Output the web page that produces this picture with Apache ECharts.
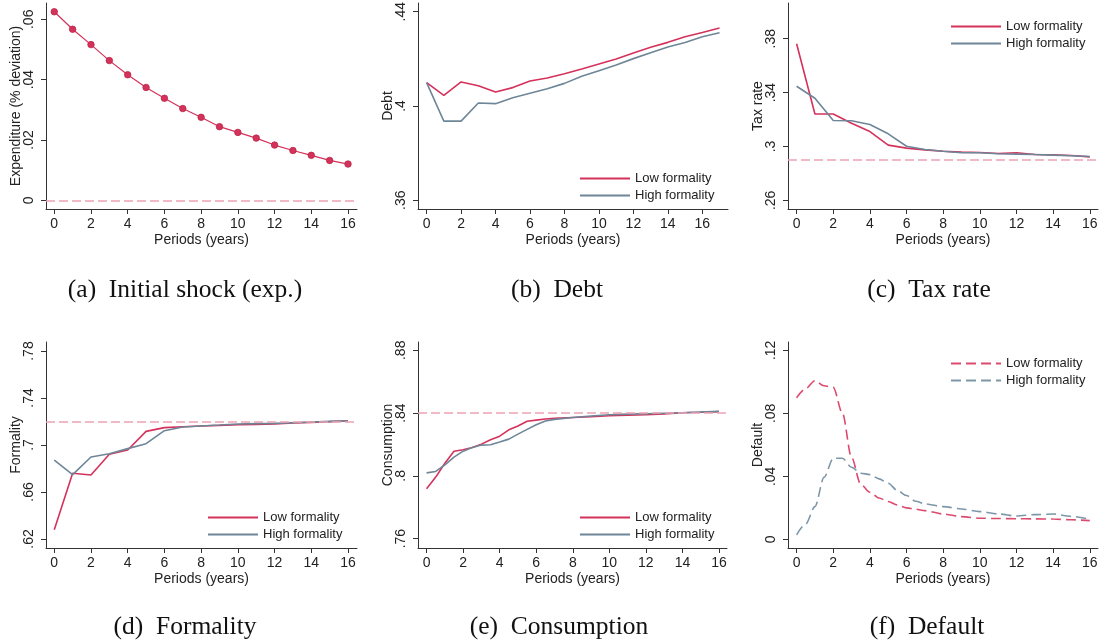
<!DOCTYPE html>
<html>
<head>
<meta charset="utf-8">
<script src="https://cdn.jsdelivr.net/npm/echarts@6/dist/echarts.min.js"></script>
<style>
body{margin:0;background:#fff;}
.panel{position:absolute;width:367px;height:322px;}
</style>
</head>
<body>
<div id="pa" class="panel" style="left:0;top:0"></div>
<div id="pb" class="panel" style="left:367px;top:0"></div>
<div id="pc" class="panel" style="left:734px;top:0;width:368px"></div>
<div id="pd" class="panel" style="left:0;top:322px"></div>
<div id="pe" class="panel" style="left:367px;top:322px"></div>
<div id="pf" class="panel" style="left:734px;top:322px;width:368px"></div>
<script>
// data
var periods = [0,1,2,3,4,5,6,7,8,9,10,11,12,13,14,15,16];
var xTicks = [0,2,4,6,8,10,12,14,16];

var shockExp = [0.0625,0.0567,0.0516,0.0463,0.0416,0.0374,0.0338,0.0304,0.0275,0.0244,0.0225,0.0206,0.0183,0.0165,0.0149,0.0132,0.0120];
var shockSteady = 0.0005;
var shockTicks = [0,0.02,0.04,0.06];

var debtPeriods = [0,1,2,3,4,5,6,7,8,9,10,11,12,13,14,15,16,17];
var debtLow = [0.4099,0.4045,0.4102,0.4086,0.4059,0.4078,0.4106,0.4119,0.4137,0.4157,0.4178,0.4199,0.4225,0.4249,0.4270,0.4294,0.4312,0.4331];
var debtHigh = [0.4099,0.3936,0.3936,0.4013,0.4010,0.4035,0.4054,0.4073,0.4096,0.4126,0.4150,0.4174,0.4201,0.4226,0.4250,0.4269,0.4294,0.4311];
var debtTicks = [0.36,0.4,0.44];

var taxLow = [0.3763,0.3241,0.3241,0.3173,0.3111,0.3010,0.2988,0.2975,0.2965,0.2958,0.2955,0.2948,0.2953,0.2940,0.2938,0.2933,0.2923];
var taxHigh = [0.3447,0.3358,0.3193,0.3191,0.3163,0.3094,0.3002,0.2978,0.2965,0.2953,0.2953,0.2946,0.2943,0.2940,0.2936,0.2931,0.2926];
var taxSteady = 0.2916;
var taxTicks = [0.26,0.3,0.34,0.38];

var formLow = [0.6279,0.6759,0.6745,0.6921,0.6957,0.7116,0.7148,0.7156,0.7162,0.7167,0.7173,0.7176,0.7179,0.7187,0.7193,0.7199,0.7207];
var formHigh = [0.6872,0.6748,0.6898,0.6926,0.6969,0.7011,0.7122,0.7153,0.7162,0.7170,0.7179,0.7182,0.7184,0.7190,0.7196,0.7201,0.7204];
var formSteady = 0.7216;
var formTicks = [0.62,0.66,0.7,0.74,0.78];

var halfPeriods = [0,0.5,1,1.5,2,2.5,3,3.5,4,4.5,5,5.5,6,6.5,7,8,9,10,11,12,13,14,15,16];
var consLow = [0.7917,0.7992,0.8080,0.8157,0.8166,0.8181,0.8202,0.8230,0.8253,0.8293,0.8318,0.8348,0.8355,0.8362,0.8366,0.8372,0.8377,0.8383,0.8386,0.8389,0.8395,0.8402,0.8405,0.8409];
var consHigh = [0.8019,0.8028,0.8070,0.8119,0.8157,0.8181,0.8196,0.8198,0.8215,0.8234,0.8266,0.8296,0.8326,0.8349,0.8360,0.8372,0.8381,0.8389,0.8393,0.8396,0.8399,0.8402,0.8407,0.8411];
var consSteady = 0.8417;
var consTicks = [0.76,0.8,0.84,0.88];

var defLow = [0.0899,0.0958,0.1007,0.0975,0.0965,0.0800,0.0520,0.0350,0.0299,0.0262,0.0240,0.0218,0.0200,0.0191,0.0182,0.0161,0.0144,0.0134,0.0132,0.0131,0.0130,0.0129,0.0124,0.0119];
var defHigh = [0.0028,0.0098,0.0208,0.0394,0.0515,0.0515,0.0458,0.0420,0.0411,0.0384,0.0356,0.0310,0.0278,0.0242,0.0225,0.0208,0.0193,0.0176,0.0161,0.0148,0.0157,0.0161,0.0146,0.0127];
var defTicks = [0,0.04,0.08,0.12];

var RED = '#d4325b';
var BLUE = '#6e8698';
var PINK = '#eca2b3';

function pairs(xs, ys){
  return ys.map(function(v,i){ return [xs[i], v]; });
}

function tickLabel(v){
  var s = String(Math.round(v*1000)/1000);
  return s.replace(/^0\./,'.');
}

function steadyLine(v){
  return {
    silent:true, symbol:'none', label:{show:false},
    lineStyle:{color:PINK, type:[9,4], width:1.5, opacity:1},
    emphasis:{disabled:true},
    data:[{yAxis:v}]
  };
}

function drawPanel(id, cfg){
  var chart = echarts.init(document.getElementById(id));
  var opt = {
    animation:false,
    textStyle:{fontFamily:'Liberation Sans', color:'#222'},
    grid:{left:cfg.grid[0], top:cfg.grid[1], width:cfg.grid[2], height:206, outerBoundsMode:'none', containLabel:false},
    xAxis:{
      type:'value', min:cfg.x[0], max:cfg.x[1],
      name:'Periods (years)', nameLocation:'middle', nameGap:24, nameMoveOverlap:false,
      nameTextStyle:{fontSize:14, color:'#222'},
      axisLine:{onZero:false, lineStyle:{color:'#333', width:1}},
      axisTick:{customValues:xTicks, length:5, lineStyle:{color:'#333'}},
      axisLabel:{customValues:xTicks, fontSize:14, color:'#222', margin:8},
      splitLine:{show:false}
    },
    yAxis:{
      type:'value', min:cfg.y[0], max:cfg.y[1],
      name:cfg.yName, nameLocation:'middle', nameGap:23, nameMoveOverlap:false,
      nameTextStyle:{fontSize:14, color:'#222'},
      axisLine:{show:true, onZero:false, lineStyle:{color:'#333', width:1}},
      axisTick:{show:true, customValues:cfg.yTicks, length:5, lineStyle:{color:'#333'}},
      axisLabel:{customValues:cfg.yTicks, rotate:90, fontSize:14, color:'#222', margin:10, formatter:tickLabel},
      splitLine:{show:false}
    },
    graphic:[{
      type:'text', x:cfg.caption[1], y:cfg.caption[2],
      style:{text:cfg.caption[0], font:'25.5px "Liberation Serif"', fill:'#111', textAlign:'center', textVerticalAlign:'middle'}
    }],
    series:cfg.series
  };
  if(cfg.legend){
    opt.legend = {
      orient:'vertical', left:cfg.legend[0], top:cfg.legend[1],
      itemWidth:50, itemHeight:14, itemGap:4,
      itemStyle:{opacity:0},
      textStyle:{fontSize:13, color:'#222'},
      data:['Low formality','High formality']
    };
  }
  chart.setOption(opt);
}

function lineSeries(name, xs, ys, color, extra){
  var s = {
    name:name, type:'line', data:pairs(xs, ys), symbol:'none',
    lineStyle:{color:color, width:1.6}, itemStyle:{color:color}
  };
  for(var k in extra) s[k] = extra[k];
  return s;
}

// (a) initial shock
drawPanel('pa', {
  grid:[46,3,311], x:[-0.45,16.49], y:[-0.0029,0.0654],
  yName:'Expenditure (% deviation)', yTicks:shockTicks,
  caption:['(a)  Initial shock (exp.)',185,290],
  series:[{
    type:'line', data:pairs(periods, shockExp),
    symbol:'circle', symbolSize:6.5,
    lineStyle:{color:RED, width:1.2}, itemStyle:{color:RED, borderColor:'#b82848', borderWidth:0.8},
    markLine:steadyLine(shockSteady)
  }]
});

// (b) debt
drawPanel('pb', {
  grid:[51,3,310], x:[-0.5,17.49], y:[0.3563,0.4437],
  yName:'Debt', yTicks:debtTicks,
  caption:['(b)  Debt',190,290],
  legend:[207,167],
  series:[
    lineSeries('Low formality', debtPeriods, debtLow, RED),
    lineSeries('High formality', debtPeriods, debtHigh, BLUE)
  ]
});

// (c) tax rate
drawPanel('pc', {
  grid:[54,3,310], x:[-0.47,16.45], y:[0.2536,0.4065],
  yName:'Tax rate', yTicks:taxTicks,
  caption:['(c)  Tax rate',195,290],
  legend:[211,15],
  series:[
    lineSeries('Low formality', periods, taxLow, RED, {markLine:steadyLine(taxSteady)}),
    lineSeries('High formality', periods, taxHigh, BLUE)
  ]
});

// (d) formality
drawPanel('pd', {
  grid:[46,20,311], x:[-0.45,16.49], y:[0.6123,0.7877],
  yName:'Formality', yTicks:formTicks,
  caption:['(d)  Formality',185,305],
  legend:[202,184],
  series:[
    lineSeries('Low formality', periods, formLow, RED, {markLine:steadyLine(formSteady)}),
    lineSeries('High formality', periods, formHigh, BLUE)
  ]
});

// (e) consumption
drawPanel('pe', {
  grid:[51,20,309], x:[-0.47,16.44], y:[0.754,0.8853],
  yName:'Consumption', yTicks:consTicks,
  caption:['(e)  Consumption',192,305],
  legend:[207,184],
  series:[
    lineSeries('Low formality', halfPeriods, consLow, RED, {markLine:steadyLine(consSteady)}),
    lineSeries('High formality', halfPeriods, consHigh, BLUE)
  ]
});

// (f) default
drawPanel('pf', {
  grid:[54,20,310], x:[-0.47,16.45], y:[-0.0055,0.1253],
  yName:'Default', yTicks:defTicks,
  caption:['(f)  Default',193,305],
  legend:[211,30],
  series:[
    lineSeries('Low formality', halfPeriods, defLow, '#dc4a6e', {smooth:0.3, smoothMonotone:'x', lineStyle:{color:'#dc4a6e', width:1.6, type:[10,5]}}),
    lineSeries('High formality', halfPeriods, defHigh, '#7e97a8', {smooth:0.3, smoothMonotone:'x', lineStyle:{color:'#7e97a8', width:1.6, type:[10,5]}})
  ]
});
</script>
</body>
</html>
